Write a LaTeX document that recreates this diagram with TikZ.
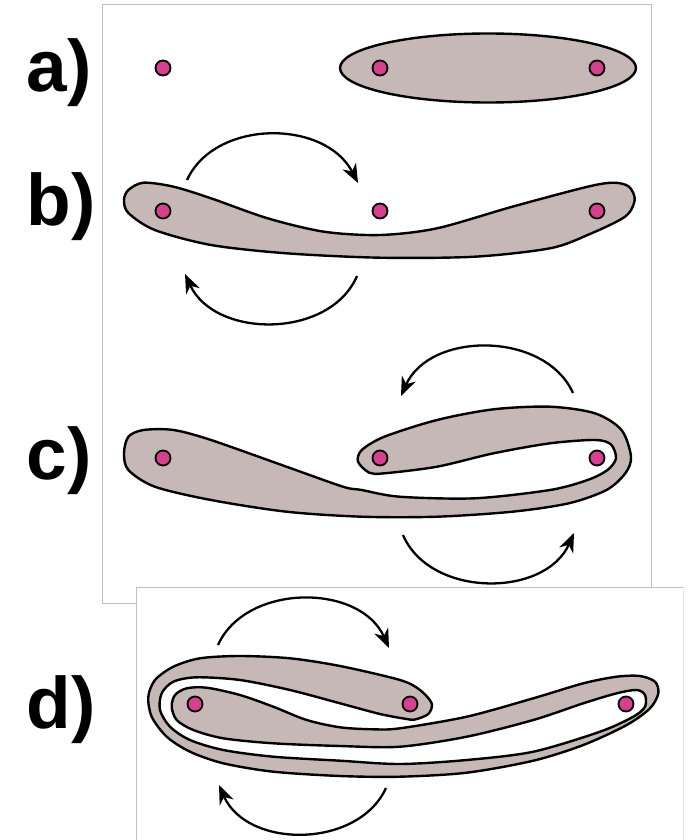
\documentclass[tikz,border=0pt]{standalone}
\usepackage{fontspec}
\setmainfont{Liberation Sans}
\usetikzlibrary{arrows.meta}
\definecolor{blob}{RGB}{198,184,182}
\definecolor{dotc}{RGB}{214,64,142}
\definecolor{framec}{RGB}{192,192,192}
\definecolor{framelight}{RGB}{228,228,228}
\begin{document}
\begin{tikzpicture}[x=1pt,y=-1pt,
  blobshape/.style={fill=blob,draw=black,line width=2.4pt,line join=round},
  pt/.style={circle,fill=dotc,draw=black,line width=1.8pt,minimum size=15pt,inner sep=0pt},
  arr/.style={line width=2.3pt,-{Stealth[length=19pt,width=15pt,inset=6pt]}},
  lbl/.style={anchor=base west,inner sep=0pt,font=\fontsize{73}{80}\bfseries\selectfont}]
\useasboundingbox (0,0) rectangle (689,840);
\fill[white] (0,0) rectangle (689,840);

% frames
\draw[draw=framec,line width=1pt] (102,5) rectangle (651,603);
\fill[white] (136,587) rectangle (683,845);
\draw[draw=framec,line width=1pt] (136,845) -- (136,587) -- (683,587);
\draw[draw=framelight,line width=1pt] (683,587) -- (683,845);

% labels
\node[lbl] (la) at (26.5,92) {a)};
\node[lbl] (lb) at (26.5,225) {b)};
\node[lbl] (lc) at (26.5,479) {c)};
\node[lbl] (ld) at (26.5,728) {d)};

% a)
\draw[blobshape] (488,68) ellipse [x radius=148, y radius=34.5];

% b)
\draw[blobshape] plot[smooth cycle, tension=0.5] coordinates {
 (124,200) (128.4,190) (143.5,182.7) (173.6,186.7) (211,198.3) (267.7,218.3)
 (324,231.7) (380,235) (437,228.3) (512.3,206.7) (587.6,186.7) (614,182.7)
 (629,186.7) (634.7,200) (625,216.7) (587.6,235) (550,248.3) (474.7,256.7)
 (380,257.7) (286.5,253.3) (211,245) (154.8,230) (128.4,213)};

% c)
\draw[blobshape] plot[smooth cycle, tension=0.5] coordinates {
 (124,453.3) (128.4,436.7) (143.5,430) (173.6,430) (211,440) (286.5,466.7)
 (343,486.7) (361.8,490) (399.5,496.7) (474.7,498.3) (550,490) (587.6,480)
 (607.5,470) (616,458.3) (611,444.5) (595,440) (550,443.3) (493.5,453.3)
 (437,466.7) (384.4,473.3) (369.3,472.7) (358,461.7) (361.8,450) (384.4,436.7)
 (437,420) (493.5,409.3) (550,406.7) (595,413.3) (621.5,430) (631,456.7)
 (625.3,473.3) (606.5,490) (568.8,503.3) (512.3,511.7) (437,516.7) (361.8,516.7)
 (286.5,511.7) (211,500) (154.8,486.7) (128.4,470)};

% d)
\draw[blobshape] plot[smooth cycle, tension=0.5] coordinates {
 (431.7,703.3) (420,690) (400,680) (340,666) (290,658.3) (240,656) (200,658.3)
 (173.3,666.7) (155,680) (148.3,696.7) (151.7,716.7) (166.7,736.7) (190,751.7)
 (223.3,763.3) (273.3,771.7) (340,776) (400,776.7) (466.7,772.7) (533.3,760.7)
 (583.3,745) (626.7,725) (650,708.3) (658.3,693.3) (655,681.7) (640,676)
 (616.7,676.7) (583.3,683.3) (533.3,698.3) (466.7,716.7) (400,728.3) (373.3,729.3)
 (340,727.3) (306.7,720) (273.3,706.7) (240,695) (206.7,687.7) (186.7,688.3)
 (175,695) (171.7,706.7) (176.7,720) (193.3,730) (223.3,738.3) (273.3,743.3)
 (340,746) (400,746.7) (466.7,736.7) (533.3,720) (583.3,703.3) (616.7,693.3)
 (636.7,690) (645,695) (645,706.7) (633.3,716.7) (600,731.7) (533.3,751.7)
 (466.7,760) (400,764) (340,760.7) (273.3,756.7) (223.3,750) (190,740)
 (170,726.7) (160,710) (161.7,693.3) (173.3,681.7) (196.7,677.3) (240,680)
 (290,690) (340,703.3) (380,714) (406.7,719) (415,719.5) (428.3,714)};

% dots
\node[pt] (a1) at (163,68) {};
\node[pt] (a2) at (380,68) {};
\node[pt] (a3) at (597,68) {};
\node[pt] (b1) at (163,211) {};
\node[pt] (b2) at (380,211) {};
\node[pt] (b3) at (597,211) {};
\node[pt] (c1) at (163,458) {};
\node[pt] (c2) at (380,458) {};
\node[pt] (c3) at (597,458) {};
\node[pt] (d1) at (195,704) {};
\node[pt] (d2) at (410,704) {};
\node[pt] (d3) at (626,704) {};

% arrow end points
\coordinate (bus) at (187,180);  \coordinate (bue) at (358,183);
\coordinate (bds) at (357,276);  \coordinate (bde) at (185,274);
\coordinate (cus) at (573,393);  \coordinate (cue) at (401,396);
\coordinate (cds) at (403,535);  \coordinate (cde) at (574,533);
\coordinate (dus) at (218,645);  \coordinate (due) at (389,648);
\coordinate (dds) at (386,788);  \coordinate (dde) at (219,785);

\draw[arr] (bus) .. controls (215,119) and (325,119) .. (bue);
\draw[arr] (bds) .. controls (330,339) and (215,339) .. (bde);
\draw[arr] (cus) .. controls (545,331) and (430,331) .. (cue);
\draw[arr] (cds) .. controls (430,598) and (545,598) .. (cde);
\draw[arr] (dus) .. controls (246,583) and (360,583) .. (due);
\draw[arr] (dds) .. controls (358,849) and (247,849) .. (dde);
\end{tikzpicture}
\end{document}
